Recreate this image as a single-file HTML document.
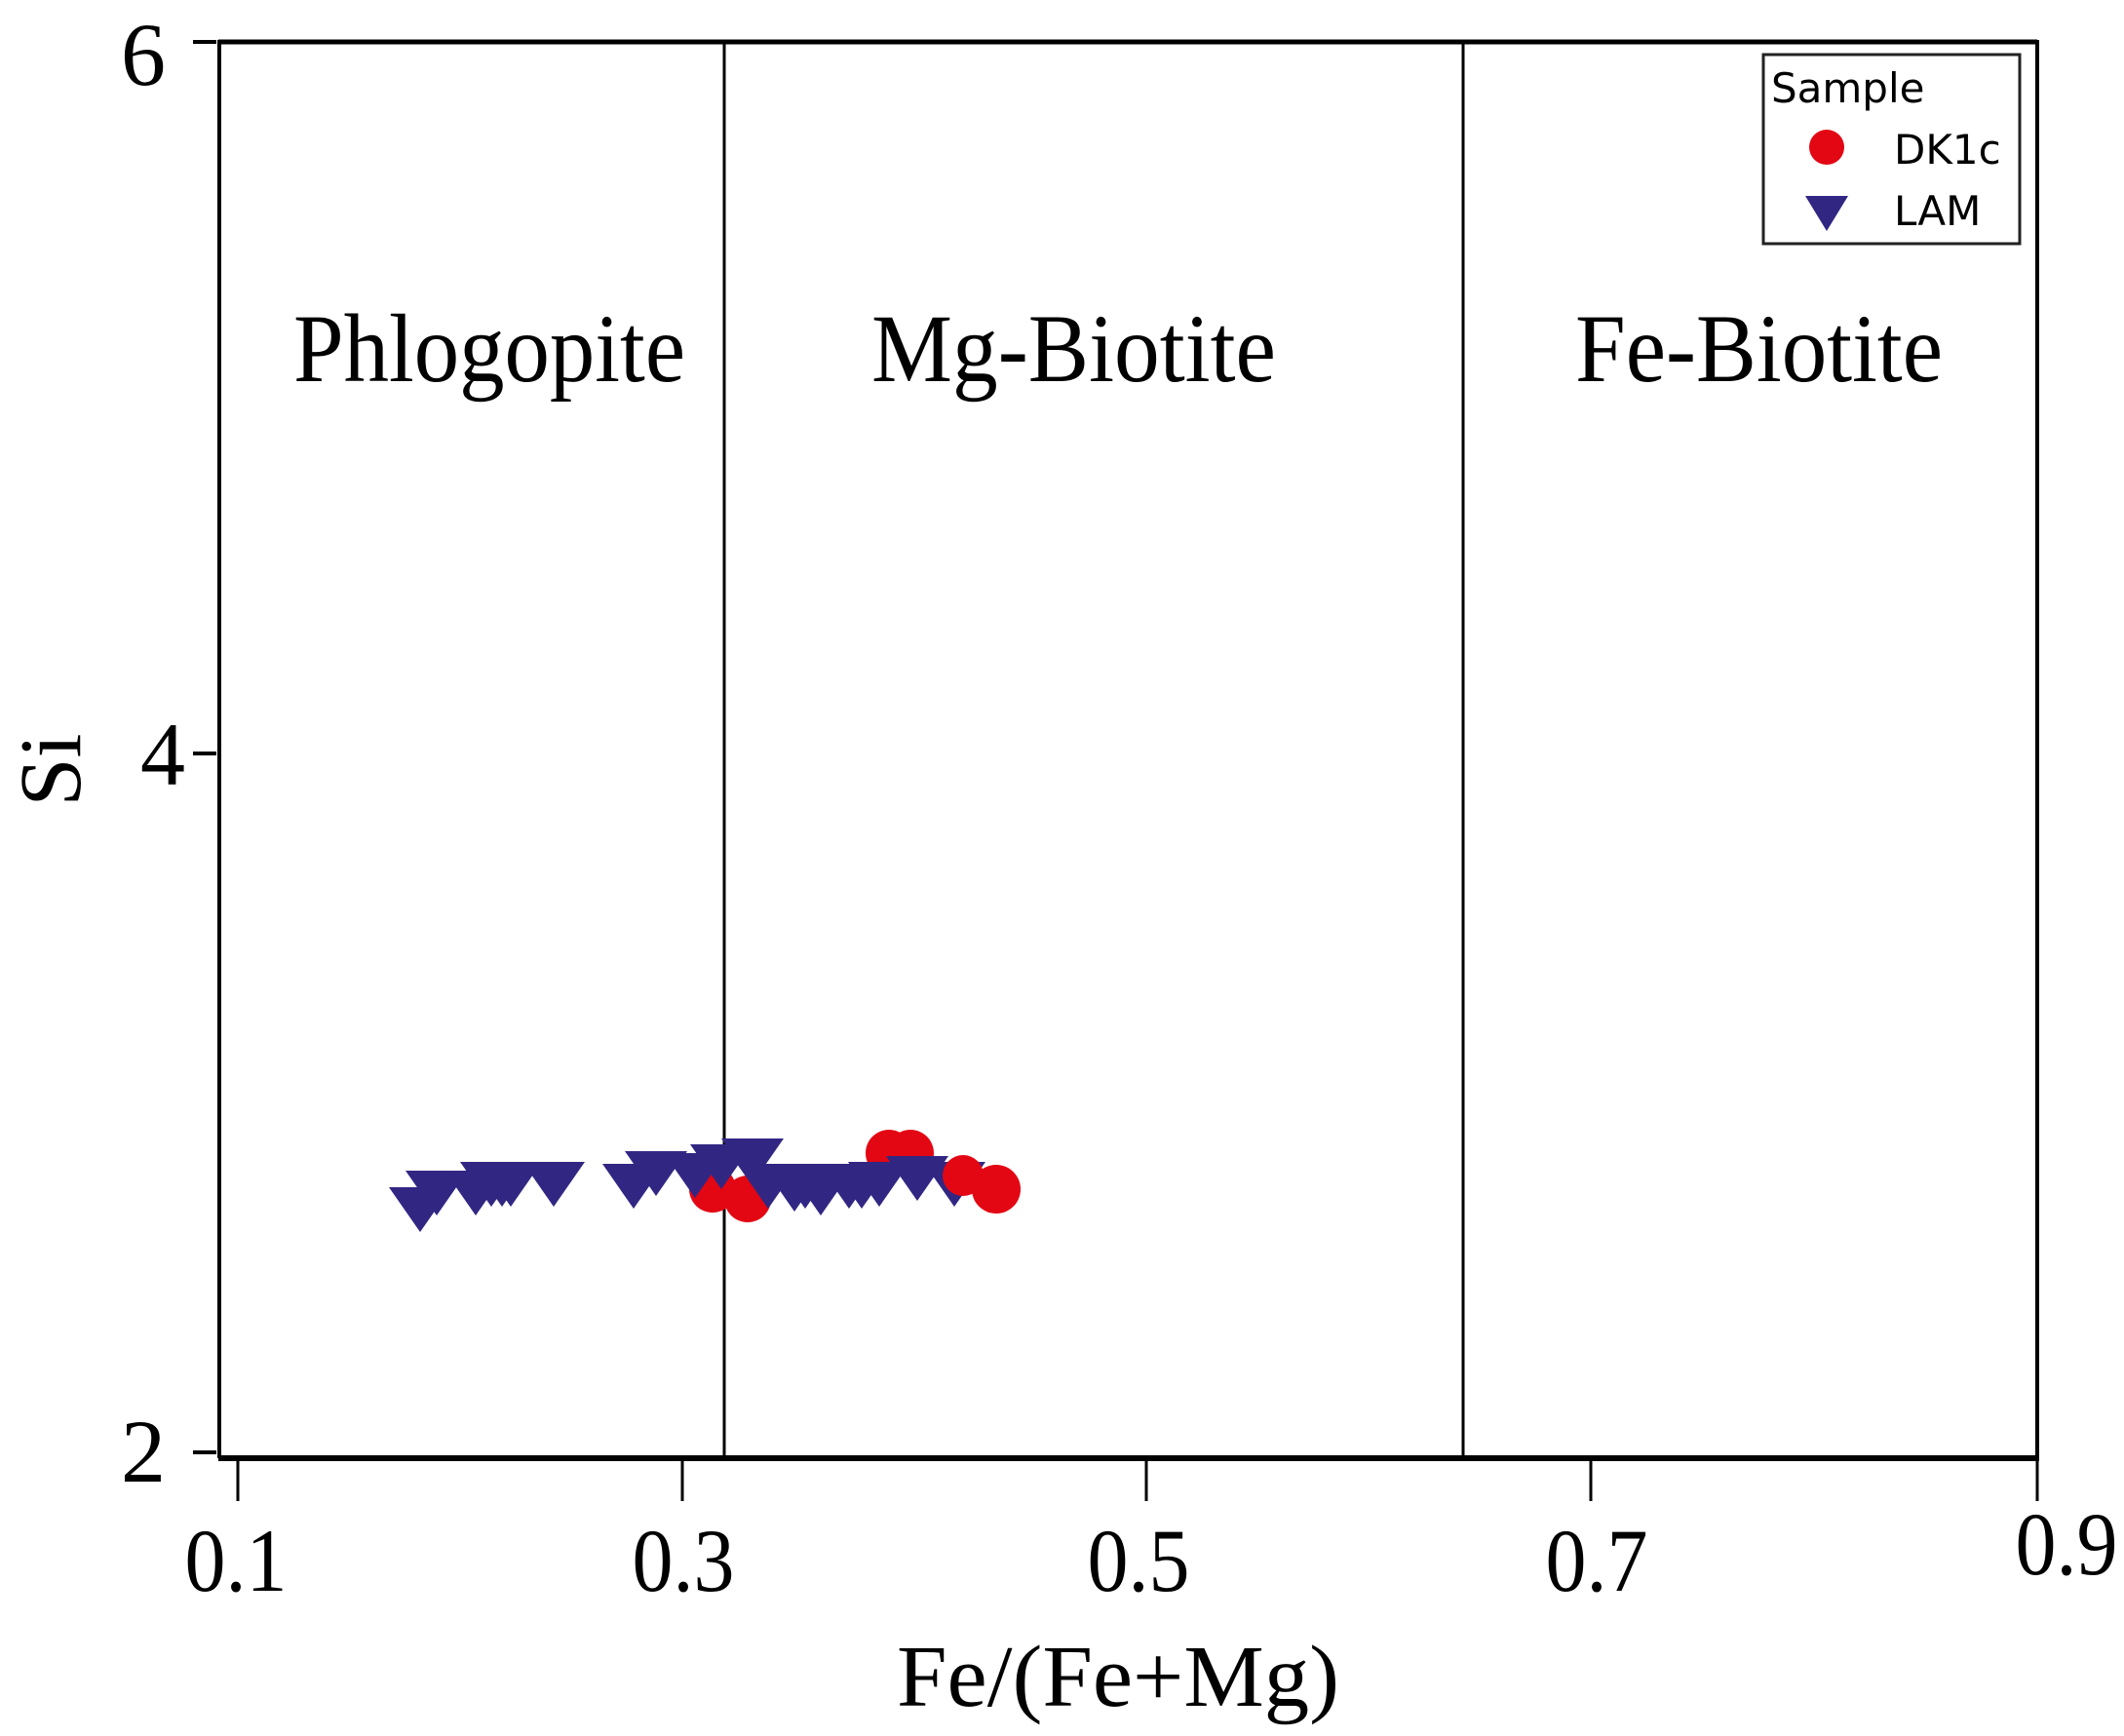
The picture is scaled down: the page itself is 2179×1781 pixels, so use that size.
<!DOCTYPE html>
<html><head><meta charset="utf-8"><style>html,body{margin:0;padding:0;background:#fff;}svg{display:block;}</style></head>
<body>
<svg width="2179" height="1781" viewBox="0 0 2179 1781" xmlns="http://www.w3.org/2000/svg">
<rect width="2179" height="1781" fill="#fff"/>
<g font-family="Liberation Serif, serif" fill="#000">
<line x1="224" y1="43" x2="2090" y2="43" stroke="#000" stroke-width="5"/>
<line x1="225" y1="41" x2="225" y2="1496" stroke="#000" stroke-width="4"/>
<line x1="2090" y1="41" x2="2090" y2="1498" stroke="#000" stroke-width="4"/>
<line x1="224" y1="1496" x2="2092" y2="1496" stroke="#000" stroke-width="6"/>
<line x1="743" y1="43" x2="743" y2="1496" stroke="#000" stroke-width="3"/>
<line x1="1501" y1="43" x2="1501" y2="1496" stroke="#000" stroke-width="3"/>
<line x1="198" y1="43" x2="222" y2="43" stroke="#000" stroke-width="4"/>
<line x1="198" y1="773" x2="222" y2="773" stroke="#000" stroke-width="4"/>
<line x1="198" y1="1490" x2="222" y2="1490" stroke="#000" stroke-width="4"/>
<text x="170" y="87" font-size="92" text-anchor="end">6</text>
<text x="190" y="805" font-size="92" text-anchor="end">4</text>
<text x="170" y="1520" font-size="92" text-anchor="end">2</text>
<g stroke="#000" stroke-width="3">
<line x1="244" y1="1496" x2="244" y2="1540"/>
<line x1="700" y1="1496" x2="700" y2="1540"/>
<line x1="1176" y1="1496" x2="1176" y2="1540"/>
<line x1="1632" y1="1496" x2="1632" y2="1540"/>
<line x1="2090" y1="1496" x2="2090" y2="1540"/>
</g>
<text x="242" y="1632" font-size="92" text-anchor="middle" textLength="105" lengthAdjust="spacingAndGlyphs">0.1</text>
<text x="701" y="1632" font-size="92" text-anchor="middle" textLength="105" lengthAdjust="spacingAndGlyphs">0.3</text>
<text x="1168" y="1632" font-size="92" text-anchor="middle" textLength="105" lengthAdjust="spacingAndGlyphs">0.5</text>
<text x="1638" y="1632" font-size="92" text-anchor="middle" textLength="105" lengthAdjust="spacingAndGlyphs">0.7</text>
<text x="2120" y="1615" font-size="92" text-anchor="middle" textLength="105" lengthAdjust="spacingAndGlyphs">0.9</text>
<text x="1147" y="1750" font-size="90" text-anchor="middle" textLength="454" lengthAdjust="spacingAndGlyphs">Fe/(Fe+Mg)</text>
<text transform="translate(82,790) rotate(-90)" font-size="90" text-anchor="middle">Si</text>
<text x="301" y="391" font-size="100" textLength="402" lengthAdjust="spacingAndGlyphs">Phlogopite</text>
<text x="894" y="391" font-size="100" textLength="415" lengthAdjust="spacingAndGlyphs">Mg-Biotite</text>
<text x="1616" y="391" font-size="100" textLength="377" lengthAdjust="spacingAndGlyphs">Fe-Biotite</text>
</g>
<rect x="1819" y="56" width="263" height="194" fill="#fff" stroke="#222" stroke-width="3" transform="translate(-10,0)"/>
<g transform="translate(-10,0)">
<g font-family="DejaVu Sans, Liberation Sans, sans-serif" fill="#000" font-size="42">
<text x="1827" y="105">Sample</text>
<text x="1953" y="168">DK1c</text>
<text x="1953" y="231">LAM</text>
</g>
<circle cx="1884" cy="151" r="18" fill="#e30613"/>
<polygon points="1862,201 1906,201 1884,237" fill="#312783"/>
</g>
<g fill="#e30613">
<circle cx="731" cy="1220" r="24"/>
<circle cx="767" cy="1230" r="24"/>
<circle cx="912" cy="1183" r="24"/>
<circle cx="934" cy="1183" r="24"/>
</g>
<g fill="#312783">
<polygon points="399,1218 463,1218 431,1264"/>
<polygon points="416,1201 480,1201 448,1247"/>
<polygon points="456,1201 520,1201 488,1247"/>
<polygon points="472,1192 536,1192 504,1238"/>
<polygon points="483,1192 547,1192 515,1238"/>
<polygon points="492,1192 556,1192 524,1238"/>
<polygon points="536,1192 600,1192 568,1238"/>
<polygon points="618,1194 682,1194 650,1240"/>
<polygon points="641,1181 705,1181 673,1227"/>
<polygon points="681,1183 745,1183 713,1229"/>
<polygon points="708,1174 772,1174 740,1220"/>
<polygon points="740,1168 804,1168 772,1214"/>
<polygon points="756,1194 820,1194 788,1240"/>
<polygon points="783,1197 847,1197 815,1243"/>
<polygon points="794,1194 858,1194 826,1240"/>
<polygon points="810,1201 874,1201 842,1247"/>
<polygon points="839,1194 903,1194 871,1240"/>
<polygon points="852,1194 916,1194 884,1240"/>
<polygon points="870,1192 934,1192 902,1238"/>
<polygon points="909,1186 973,1186 941,1232"/>
<polygon points="947,1192 1011,1192 979,1238"/>
</g>
<g fill="#e30613">
<circle cx="988" cy="1206" r="21"/>
<circle cx="1022" cy="1220" r="25"/>
</g>
</svg>
</body></html>
